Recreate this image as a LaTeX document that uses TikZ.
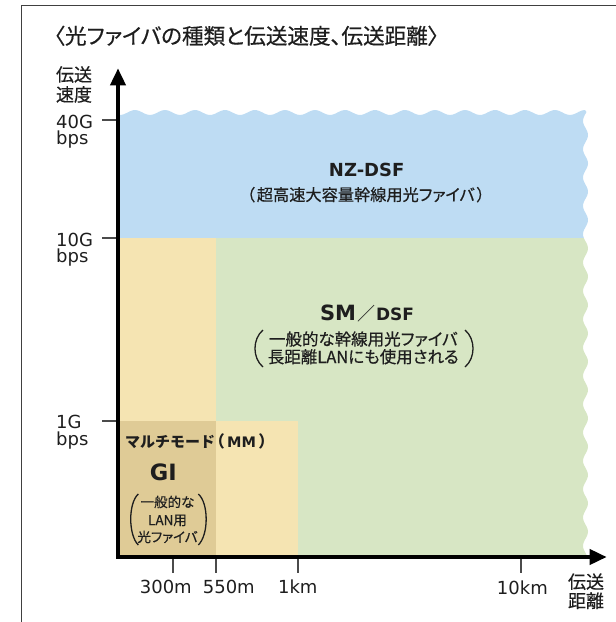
\documentclass[tikz,border=0pt]{standalone}
\usepackage{fontspec}
\setmainfont{DejaVu Sans}
\newfontfamily\jp{Noto Sans CJK JP}[RawFeature=+palt, FakeBold=0.5]
\newfontfamily\jpn{Noto Sans CJK JP}
\newfontfamily\jpp{Noto Sans CJK JP}[RawFeature=+palt]
\usetikzlibrary{arrows.meta}
\definecolor{nzblue}{RGB}{190,220,243}
\definecolor{smgreen}{RGB}{215,230,196}
\definecolor{mmyellow}{RGB}{245,228,178}
\definecolor{gitan}{RGB}{223,203,150}
\definecolor{tickgray}{RGB}{75,75,75}
\definecolor{txt}{RGB}{30,30,30}
\begin{document}
\begin{tikzpicture}[x=1pt,y=-1pt,
  every node/.style={inner sep=0pt, text=txt},
  lat/.style={font=\fontsize{18}{18}\selectfont},
  jpax/.style={font=\jp\fontsize{18}{18}\selectfont},
  jplab/.style={font=\jp\fontsize{16.5}{16.5}\selectfont},
  jpsmall/.style={font=\jp\fontsize{13.5}{13.5}\selectfont},
  ytick/.style={draw=tickgray, line width=1.6pt},
  xtick/.style={draw=tickgray, line width=1.8pt},
  paren/.style={draw=txt, line width=1.3pt},
  axis/.style={line width=3.8pt, line join=miter,
    {Triangle[length=17pt,width=15pt]}-{Triangle[length=17pt,width=15pt]}},
  frame/.style={draw=black!75, line width=1.5pt}]
\useasboundingbox (0,0) rectangle (616,622);

% frame
\coordinate (fbl) at (21.5,622);
\coordinate (ftr) at (616,5.5);
\draw[frame] (fbl) |- (ftr);

% regions
\fill[nzblue] (118,238) -- (118,112.5)
  -- plot[domain=118:585, samples=160] (\x,{112.5-2.5*cos(12*(\x-135))})
  -- plot[domain=112:238, samples=60] ({585.5+2.5*cos(12.707*(\x-390))},\x)
  -- cycle;
\fill[smgreen] (215.7,238)
  -- plot[domain=238:557, samples=140] ({585.5+2.5*cos(12.707*(\x-390))},\x)
  -- (215.7,557) -- cycle;
\fill[mmyellow] (118,238) rectangle (215.7,557);
\fill[mmyellow] (215.7,421) rectangle (298,557);
\fill[gitan] (118,421) rectangle (215.7,557);

% title
\node[anchor=base west, font=\jp\fontsize{21.6}{21.6}\selectfont] (title) at (54,44)
  {〈光ファイバの種類と伝送速度、伝送距離〉};

% axis labels
\node[jpax, anchor=base] (yl1) at (74,81.3) {伝送};
\node[jpax, anchor=base] (yl2) at (74,101.3) {速度};
\node[jpax, anchor=base] (xl1) at (586,588.5) {伝送};
\node[jpax, anchor=base] (xl2) at (586,607.6) {距離};

% y ticks
\foreach \yy/\nm in {120/a,238/b,421/c}{
  \coordinate (yt\nm1) at (102,\yy);
  \coordinate (yt\nm2) at (118,\yy);
  \draw[ytick] (yt\nm1) -- (yt\nm2);
}
\node[lat, anchor=base west] (v40) at (56,128) {40G};
\node[lat, anchor=base west] (u40) at (56,144.5) {bps};
\node[lat, anchor=base west] (v10) at (56,246) {10G};
\node[lat, anchor=base west] (u10) at (56,262.5) {bps};
\node[lat, anchor=base west] (v1) at (56,428.5) {1G};
\node[lat, anchor=base west] (u1) at (56,445) {bps};

% x ticks
\foreach \xx/\nm in {173.3/a,215.7/b,298/c,520.7/d}{
  \coordinate (xt\nm1) at (\xx,557);
  \coordinate (xt\nm2) at (\xx,572.7);
  \draw[xtick] (xt\nm1) -- (xt\nm2);
}
\node[lat, anchor=base] (d300) at (165.8,593.5) {300m};
\node[lat, anchor=base] (d550) at (228.8,593.5) {550m};
\node[lat, anchor=base] (d1k) at (297.8,593.5) {1km};
\node[lat, anchor=base] (d10k) at (522.4,594) {10km};

% NZ-DSF
\node[anchor=base, font=\fontsize{18}{18}\selectfont\bfseries] (nz) at (366.7,176.7) {NZ-DSF};
\node[anchor=base, font=\jp\fontsize{16.2}{16.2}\selectfont] (nzsub) at (365.8,200.8)
  {（\hspace{2pt}超高速大容量幹線用光ファイバ\hspace{2pt}）};

% SM / DSF
\node[anchor=base] (sm) at (367,320.7)
  {{\fontsize{21}{21}\selectfont\bfseries SM}\hspace{1pt}{\jpn\fontsize{18}{18}\selectfont ／}\hspace{1pt}{\fontsize{17}{17}\selectfont\bfseries DSF}};
\node[jplab, anchor=base] (sm1) at (363.3,345.3) {一般的な幹線用光ファイバ};
\node[jplab, anchor=base] (sm2) at (363.3,363) {長距離LANにも使用される};
\draw[paren] (263,330) .. controls (252.3,339) and (252.3,358) .. (263,367);
\draw[paren] (465,330) .. controls (475.7,339) and (475.7,358) .. (465,367);

% MM / GI
\node[anchor=base west] (mm) at (125,447.4)
  {{\jpn\fontsize{15}{15}\selectfont\bfseries マルチモード}\hspace{1pt}{\jpp\fontsize{16}{16}\selectfont\bfseries （}\hspace{3pt}{\fontsize{14.5}{14.5}\selectfont\bfseries MM}\hspace{3pt}{\jpp\fontsize{16}{16}\selectfont\bfseries ）}};
\node[anchor=base, font=\fontsize{22.5}{22.5}\selectfont\bfseries] (gi) at (163.3,480) {GI};
\node[jpsmall, anchor=base] (gi1) at (167.5,507.1) {一般的な};
\node[jpsmall, anchor=base] (gi2) at (167.5,525.1) {LAN用};
\node[jpsmall, anchor=base] (gi3) at (167.5,542.1) {光ファイバ};
\draw[paren] (138.3,494) .. controls (128.2,503) and (128.2,535) .. (138.3,545);
\draw[paren] (198.3,494) .. controls (208.8,503) and (208.8,535) .. (198.3,545);

% axes
\coordinate (ytip) at (118,68.3);
\coordinate (xtip) at (606.7,557);
\draw[axis] (ytip) |- (xtip);
\end{tikzpicture}
\end{document}
